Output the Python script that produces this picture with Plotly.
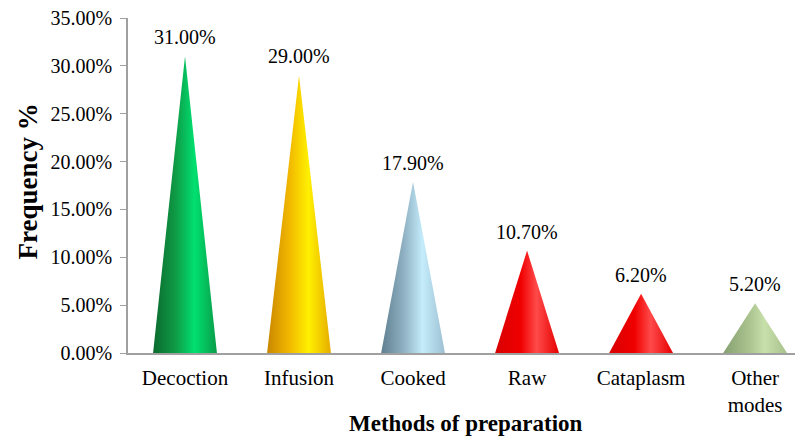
import plotly.graph_objects as go

categories = ["Decoction", "Infusion", "Cooked", "Raw", "Cataplasm", "Other<br>modes"]
values = [31.0, 29.0, 17.9, 10.7, 6.2, 5.2]
tick_values = [0, 5, 10, 15, 20, 25, 30, 35]
tick_labels = ["0.00%", "5.00%", "10.00%", "15.00%", "20.00%", "25.00%", "30.00%", "35.00%"]
x_title = "Methods of preparation"
y_title = "Frequency %"

gradients = [
    [[0, "#0b6a2e"], [0.35, "#0f9a46"], [0.65, "#00e070"], [1, "#0a9c48"]],
    [[0, "#c98600"], [0.35, "#f2b800"], [0.65, "#fff000"], [1, "#e6ad00"]],
    [[0, "#5f7f8f"], [0.35, "#8eb0c2"], [0.65, "#c4ecfb"], [1, "#9dc0d2"]],
    [[0, "#d80000"], [0.4, "#f00000"], [0.65, "#ff4a4a"], [1, "#e60000"]],
    [[0, "#d80000"], [0.4, "#f00000"], [0.65, "#ff4a4a"], [1, "#e60000"]],
    [[0, "#86a070"], [0.4, "#a9c28e"], [0.65, "#c8e0aa"], [1, "#a8c08c"]],
]

FONT = "Liberation Serif"
half_w = 0.28
fig = go.Figure()
for i, (v, g) in enumerate(zip(values, gradients)):
    fig.add_trace(go.Scatter(
        x=[i - half_w, i, i + half_w, i - half_w],
        y=[0, v, 0, 0],
        mode="lines",
        line=dict(width=0),
        fill="toself",
        fillgradient=dict(type="horizontal", colorscale=g),
        hoverinfo="skip",
        showlegend=False,
    ))

for i, v in enumerate(values):
    fig.add_annotation(
        x=i, y=v, xref="x", yref="y",
        text=f"{v:.2f}%", showarrow=False,
        yanchor="bottom", yshift=6,
        font=dict(family=FONT, size=20, color="#000"),
    )

fig.add_annotation(
    x=0.5, y=-0.209, xref="paper", yref="paper",
    text=f"<b>{x_title}</b>", showarrow=False,
    xanchor="center", yanchor="middle",
    font=dict(family=FONT, size=23, color="#000"),
)
fig.add_annotation(
    x=-0.148, y=0.512, xref="paper", yref="paper",
    text=f"<b>{y_title}</b>", showarrow=False, textangle=-90,
    xanchor="center", yanchor="middle",
    font=dict(family=FONT, size=27, color="#000"),
)

fig.update_layout(
    width=795, height=430,
    margin=dict(l=120, r=0, t=10, b=85),
    plot_bgcolor="white", paper_bgcolor="white",
    font=dict(family=FONT, size=20, color="#000"),
)
fig.update_xaxes(
    range=[-0.5, 5.42],
    tickvals=list(range(len(categories))),
    ticktext=categories,
    showline=True, linecolor="#a0a0a0", linewidth=1.5,
    ticks="", showgrid=False, zeroline=False,
    ticklabelstandoff=5,
    tickfont=dict(family=FONT, size=21, color="#000"),
    automargin=False,
)
fig.update_yaxes(
    range=[0, 35],
    tickvals=tick_values, ticktext=tick_labels,
    showline=True, linecolor="#a0a0a0", linewidth=1.5,
    ticks="outside", ticklen=6, tickcolor="#a0a0a0",
    ticklabelstandoff=4,
    ticklabeloverflow="allow",
    showgrid=False, zeroline=False,
    tickfont=dict(family=FONT, size=20, color="#000"),
    automargin=False,
)

fig.write_html("out.html")
